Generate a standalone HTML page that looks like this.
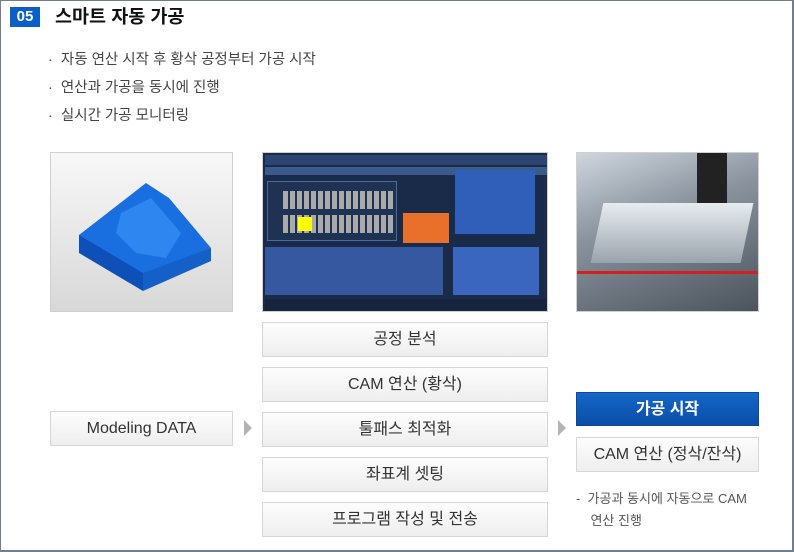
<!DOCTYPE html>
<html><head><meta charset="utf-8"><style>
*{margin:0;padding:0;box-sizing:border-box}
body{width:794px;height:552px;background:#fff;position:relative;overflow:hidden;font-family:"Liberation Sans","Noto Sans CJK KR",sans-serif}
.frame{position:absolute;left:0;top:0;width:794px;height:552px;border:1px solid #6f808c;border-width:1px 2px 2px 1px}
.abs{position:absolute}
.badge{left:10px;top:7px;width:30px;height:20px;background:#0b5fc6;color:#fff;font-weight:bold;font-size:15px;text-align:center;line-height:20px}
.title{left:55px;top:5px;font-size:18.5px;font-weight:bold;color:#111;line-height:24px}
.bl{left:48px;font-size:14.5px;color:#444;line-height:17px}
.box{position:absolute;border:1px solid #d6d6d6;background:linear-gradient(#fdfdfd,#eeeeee);text-align:center;font-size:16px;color:#333;line-height:33px}
.arr{position:absolute;width:0;height:0;border-top:8px solid transparent;border-bottom:8px solid transparent;border-left:8px solid #b4b4b4}
.img{position:absolute;border:1px solid #d0d0d0;overflow:hidden}
</style></head><body>
<div class="frame"></div>
<div class="abs badge">05</div>
<div class="abs title">스마트 자동 가공</div>
<div class="abs bl" style="top:52px">·&nbsp; 자동 연산 시작 후 황삭 공정부터 가공 시작</div>
<div class="abs bl" style="top:80px">·&nbsp; 연산과 가공을 동시에 진행</div>
<div class="abs bl" style="top:108px">·&nbsp; 실시간 가공 모니터링</div>

<div class="img" style="left:50px;top:152px;width:183px;height:160px;background:linear-gradient(#f8f8f8,#d8d8d8)">
<svg width="181" height="158" viewBox="0 0 181 158">
<polygon points="28,82 95,30 118,45 160,95 150,100 92,132 28,92" fill="#1a6fe0"/>
<polygon points="28,82 92,120 92,138 28,100" fill="#0e50b8"/>
<polygon points="92,120 160,95 160,108 92,138" fill="#1560c8"/>
<polygon points="70,60 100,45 130,80 115,105 85,100 65,80" fill="#2e86f0"/>
</svg></div>

<div class="img" style="left:262px;top:152px;width:286px;height:160px;background:#1a2b4a">
<div class="abs" style="left:2px;top:2px;width:282px;height:10px;background:#2c4470"></div>
<div class="abs" style="left:2px;top:14px;width:282px;height:8px;background:#3a5a8c"></div>
<div class="abs" style="left:4px;top:28px;width:130px;height:60px;background:#1f3254;border:1px solid #4a6a9a"></div>
<div class="abs" style="left:20px;top:38px;width:110px;height:18px;background:repeating-linear-gradient(90deg,#aaa 0 5px,transparent 5px 7px)"></div>
<div class="abs" style="left:20px;top:62px;width:110px;height:18px;background:repeating-linear-gradient(90deg,#aaa 0 5px,transparent 5px 7px)"></div>
<div class="abs" style="left:35px;top:64px;width:14px;height:14px;background:#ff0"></div>
<div class="abs" style="left:140px;top:60px;width:46px;height:30px;background:#e8702a"></div>
<div class="abs" style="left:192px;top:17px;width:80px;height:64px;background:#2f5fb8"></div>
<div class="abs" style="left:2px;top:94px;width:178px;height:48px;background:#3558a0"></div>
<div class="abs" style="left:190px;top:94px;width:86px;height:48px;background:#3a66c0"></div>
<div class="abs" style="left:2px;top:146px;width:282px;height:12px;background:#16243e"></div>
</div>

<div class="img" style="left:576px;top:152px;width:183px;height:160px;background:linear-gradient(160deg,#cfd6de,#8a939e 40%,#4b535c)">
<div class="abs" style="left:20px;top:50px;width:150px;height:60px;background:linear-gradient(#e8ecf0,#9aa3ac);transform:skewX(-12deg)"></div>
<div class="abs" style="left:0;top:118px;width:183px;height:3px;background:#d02020"></div>
<div class="abs" style="left:120px;top:0;width:30px;height:50px;background:#222"></div>
</div>

<div class="box" style="left:262px;top:322px;width:286px;height:35px">공정 분석</div>
<div class="box" style="left:262px;top:367px;width:286px;height:35px">CAM 연산 (황삭)</div>
<div class="box" style="left:262px;top:412px;width:286px;height:35px">툴패스 최적화</div>
<div class="box" style="left:262px;top:457px;width:286px;height:35px">좌표계 셋팅</div>
<div class="box" style="left:262px;top:502px;width:286px;height:35px">프로그램 작성 및 전송</div>
<div class="box" style="left:50px;top:411px;width:183px;height:35px">Modeling DATA</div>
<div class="arr" style="left:244px;top:420px"></div>
<div class="arr" style="left:558px;top:420px"></div>
<div class="box" style="left:576px;top:392px;width:183px;height:34px;background:linear-gradient(#1466c8,#0a4ea6);border-color:#0a4a9a;color:#fff;font-weight:bold;font-size:16px">가공 시작</div>
<div class="box" style="left:576px;top:437px;width:183px;height:35px">CAM 연산 (정삭/잔삭)</div>
<div class="abs" style="left:576px;top:488px;font-size:13px;color:#555;line-height:22px">-&nbsp; 가공과 동시에 자동으로 CAM<br>&nbsp;&nbsp;&nbsp; 연산 진행</div>
</body></html>
